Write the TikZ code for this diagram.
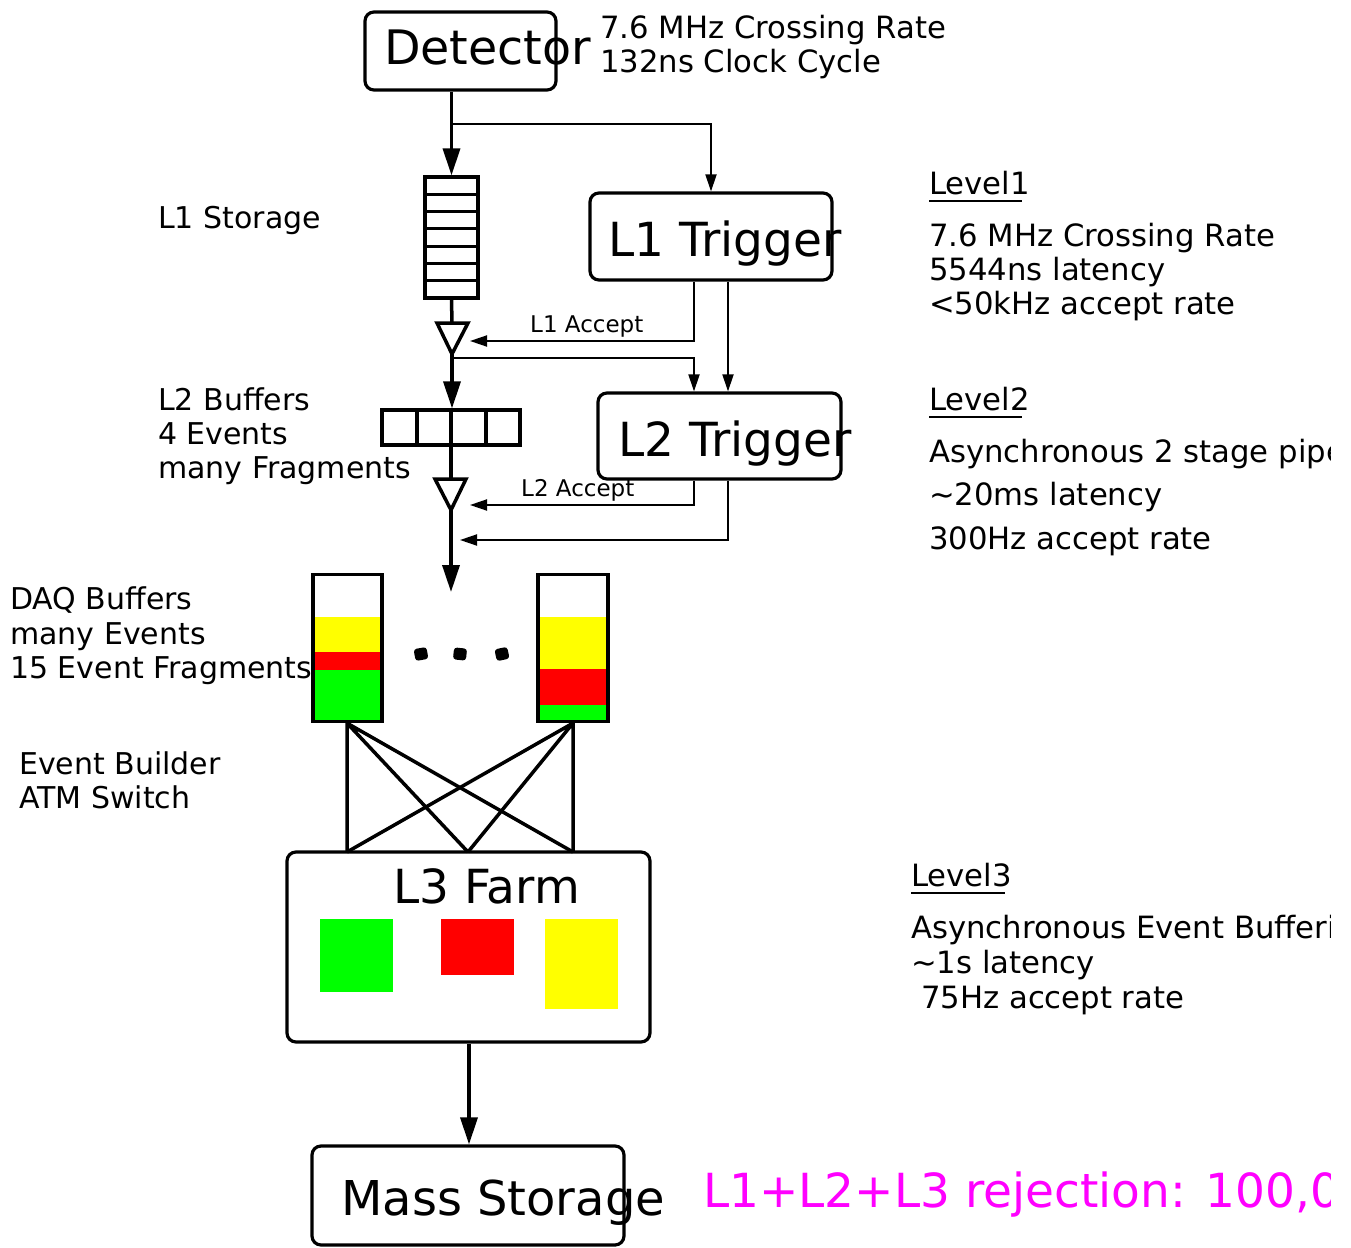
\documentclass[tikz,border=0pt]{standalone}
\usepackage{fontspec}
\setmainfont{DejaVu Sans}
\usetikzlibrary{arrows.meta}
\definecolor{pgreen}{RGB}{0,255,0}
\definecolor{pred}{RGB}{255,0,0}
\definecolor{pyellow}{RGB}{255,255,0}
\definecolor{pmag}{RGB}{255,0,255}
\begin{document}
\begin{tikzpicture}[x=1pt,y=-1pt,
 box/.style={draw,line width=3.2pt,rounded corners=9pt,inner sep=0pt},
 cell/.style={draw,line width=3.2pt,inner sep=0pt},
 txt/.style={anchor=base west,inner sep=0pt,font=\fontsize{30}{30}\selectfont},
 big/.style={anchor=base west,inner sep=0pt,font=\fontsize{47}{47}\selectfont},
 lbl/.style={anchor=base west,inner sep=0pt,font=\fontsize{23}{23}\selectfont},
 thickline/.style={line width=3.5pt},
 thinline/.style={line width=1.9pt},
 bigarrow/.style={thickline,-{Triangle[width=17pt,length=27pt]}},
 smallarrow/.style={thinline,-{Triangle[width=11pt,length=17pt]}},
]
\useasboundingbox (0,0) rectangle (1351,1247);
\fill[white] (0,0) rectangle (1351,1247);

% ---------- boxes ----------
\node[box,minimum width=191pt,minimum height=78pt] (det) at (460.5,51) {};
\node[big,font=\fontsize{47.5}{47.5}\selectfont] (dett) at (384,64) {Detector};
\node[box,minimum width=242pt,minimum height=87pt] (l1t) at (711,236.5) {};
\node[big] (l1tt) at (608,256) {L1 Trigger};
\node[box,minimum width=243pt,minimum height=86pt] (l2t) at (719.5,436) {};
\node[big] (l2tt) at (618,456) {L2 Trigger};

% L1 storage stack
\node[cell,minimum width=53pt,minimum height=121pt] (l1st) at (451.5,237.5) {};
\foreach \i in {1,...,6} \draw[line width=3.2pt] (425,177+\i*17.29) -- (478,177+\i*17.29);

% L2 buffer
\node[cell,minimum width=138pt,minimum height=35pt] (l2buf) at (451,427.5) {};
\draw[line width=3.2pt] (417,410) -- (417,445) (486,410) -- (486,445);

% triangles
\coordinate (t1top) at (452,323);
\coordinate (t1tip) at (452,354);
\draw[thickline,line join=miter] (437,323) -- (468,323) -- (t1tip) -- cycle;
\coordinate (t2top) at (451,479);
\coordinate (t2tip) at (451,510);
\draw[thickline,line join=miter] (435,479) -- (466,479) -- (t2tip) -- cycle;

% connectors top part
\coordinate (b1) at (452,124);
\draw[bigarrow] (l1st.north |- det.south) -- (l1st.north);
\draw[smallarrow] (b1) -| (l1t.north);
\draw[thickline] (l1st.south) -- (t1top);
\coordinate (acc1) at (470,341);
\draw[smallarrow] (l1t.south -| 694,0) |- (acc1);
\node[lbl] (acc1t) at (530,332) {L1 Accept};
\coordinate (b2) at (452,358);
\draw[bigarrow] (t1tip) -- (l2buf.north -| t1tip);
\draw[smallarrow] (b2) -| (l2t.north -| 694,0);
\draw[smallarrow] (l1t.south -| 728,0) -- (l2t.north -| 728,0);
\draw[thickline] (l2buf.north -| t2top) -- (t2top);
\coordinate (acc2) at (470,505);
\draw[smallarrow] (l2t.south -| 694,0) |- (acc2);
\node[lbl] (acc2t) at (521,496) {L2 Accept};
\coordinate (acc3) at (460,540);
\draw[smallarrow] (l2t.south -| 728,0) |- (acc3);
\coordinate (daqin) at (451,592);
\draw[bigarrow] (t2tip) -- (daqin);

% DAQ buffers
\fill[pyellow] (313,617) rectangle (382,652);
\fill[pred] (313,652) rectangle (382,670);
\fill[pgreen] (313,670) rectangle (382,722);
\fill[pyellow] (538,617) rectangle (608,669);
\fill[pred] (538,669) rectangle (608,705);
\fill[pgreen] (538,705) rectangle (608,722);
\node[cell,minimum width=69pt,minimum height=147pt] (daqL) at (347.5,648) {};
\node[cell,minimum width=70pt,minimum height=147pt] (daqR) at (573,648) {};
\foreach \x/\n/\r in {421/d1/10,460/d2/-6,502/d3/12}
  \node[fill=black,rounded corners=3pt,minimum width=13pt,minimum height=12pt,inner sep=0pt,rotate=\r] (\n) at (\x,654) {};

% L3 farm
\node[box,minimum width=363pt,minimum height=190pt] (l3) at (468.5,947) {};
\node[big] (l3tt) at (393,903) {L3 Farm};
\fill[pgreen] (320,919) rectangle (393,992);
\fill[pred] (441,919) rectangle (514,975);
\fill[pyellow] (545,919) rectangle (618,1009);

% event builder crossing
\coordinate (eL) at (347,852);
\coordinate (eM) at (468,852);
\coordinate (eR) at (573,852);
\draw[thickline] (daqL.south -| eL) -- (eL) (daqL.south -| eL) -- (eM) (daqL.south -| eL) -- (eR);
\draw[thickline] (daqR.south -| eR) -- (eR) (daqR.south -| eR) -- (eM) (daqR.south -| eR) -- (eL);

% mass storage
\node[box,minimum width=312pt,minimum height=99pt] (ms) at (468,1195.5) {};
\node[big,font=\fontsize{48}{48}\selectfont] (mst) at (341,1215) {Mass Storage};
\draw[bigarrow] (l3.south -| 469,0) -- (ms.north -| 469,0);

% left texts
\node[txt] (s1) at (158,228) {L1 Storage};
\node[txt] (s2) at (158,410) {L2 Buffers};
\node[txt] (s3) at (158,444) {4 Events};
\node[txt] (s4) at (158,478) {many Fragments};
\node[txt] (s5) at (10,609) {DAQ Buffers};
\node[txt] (s6) at (10,644) {many Events};
\node[txt] (s7) at (10,678) {15 Event Fragments};
\node[txt] (s8) at (19,774) {Event Builder};
\node[txt] (s9) at (19,808) {ATM Switch};
\node[txt,font=\fontsize{30.7}{30.7}\selectfont] (r1) at (600,38) {7.6 MHz Crossing Rate};
\node[txt,font=\fontsize{30.7}{30.7}\selectfont] (r2) at (600,72) {132ns Clock Cycle};

% right texts (cut at the edge as in the original)
\begin{scope}
\clip (0,0) rectangle (1330,1247);
\node[txt,font=\fontsize{30.7}{30.7}\selectfont] (lv1) at (929,194) {Level1};
\draw[thinline] (929,201) -- (1022,201);
\node[txt,font=\fontsize{30.7}{30.7}\selectfont] (a1) at (929,246) {7.6 MHz Crossing Rate};
\node[txt,font=\fontsize{30.7}{30.7}\selectfont] (a2) at (929,280) {5544ns latency};
\node[txt,font=\fontsize{30.7}{30.7}\selectfont] (a3) at (929,314) {<50kHz accept rate};
\node[txt,font=\fontsize{30.7}{30.7}\selectfont] (lv2) at (929,410) {Level2};
\draw[thinline] (929,417) -- (1022,417);
\node[txt,font=\fontsize{30.7}{30.7}\selectfont] (b1t) at (929,462) {Asynchronous 2 stage pipeline};
\node[txt,font=\fontsize{30.7}{30.7}\selectfont] (b2t) at (929,505) {\textasciitilde 20ms latency};
\node[txt,font=\fontsize{30.7}{30.7}\selectfont] (b3t) at (929,549) {300Hz accept rate};
\node[txt,font=\fontsize{30.7}{30.7}\selectfont] (lv3) at (911,886) {Level3};
\draw[thinline] (911,893) -- (1005,893);
\node[txt,font=\fontsize{30.7}{30.7}\selectfont] (c1) at (911,938) {Asynchronous Event Buffering};
\node[txt,font=\fontsize{30.7}{30.7}\selectfont] (c2) at (911,973) {\textasciitilde 1s latency};
\node[txt,font=\fontsize{30.7}{30.7}\selectfont] (c3) at (921,1008) {75Hz accept rate};
\node[big,text=pmag] (rej) at (703,1207) {L1+L2+L3 rejection: 100,000};
\end{scope}
\end{tikzpicture}
\end{document}
